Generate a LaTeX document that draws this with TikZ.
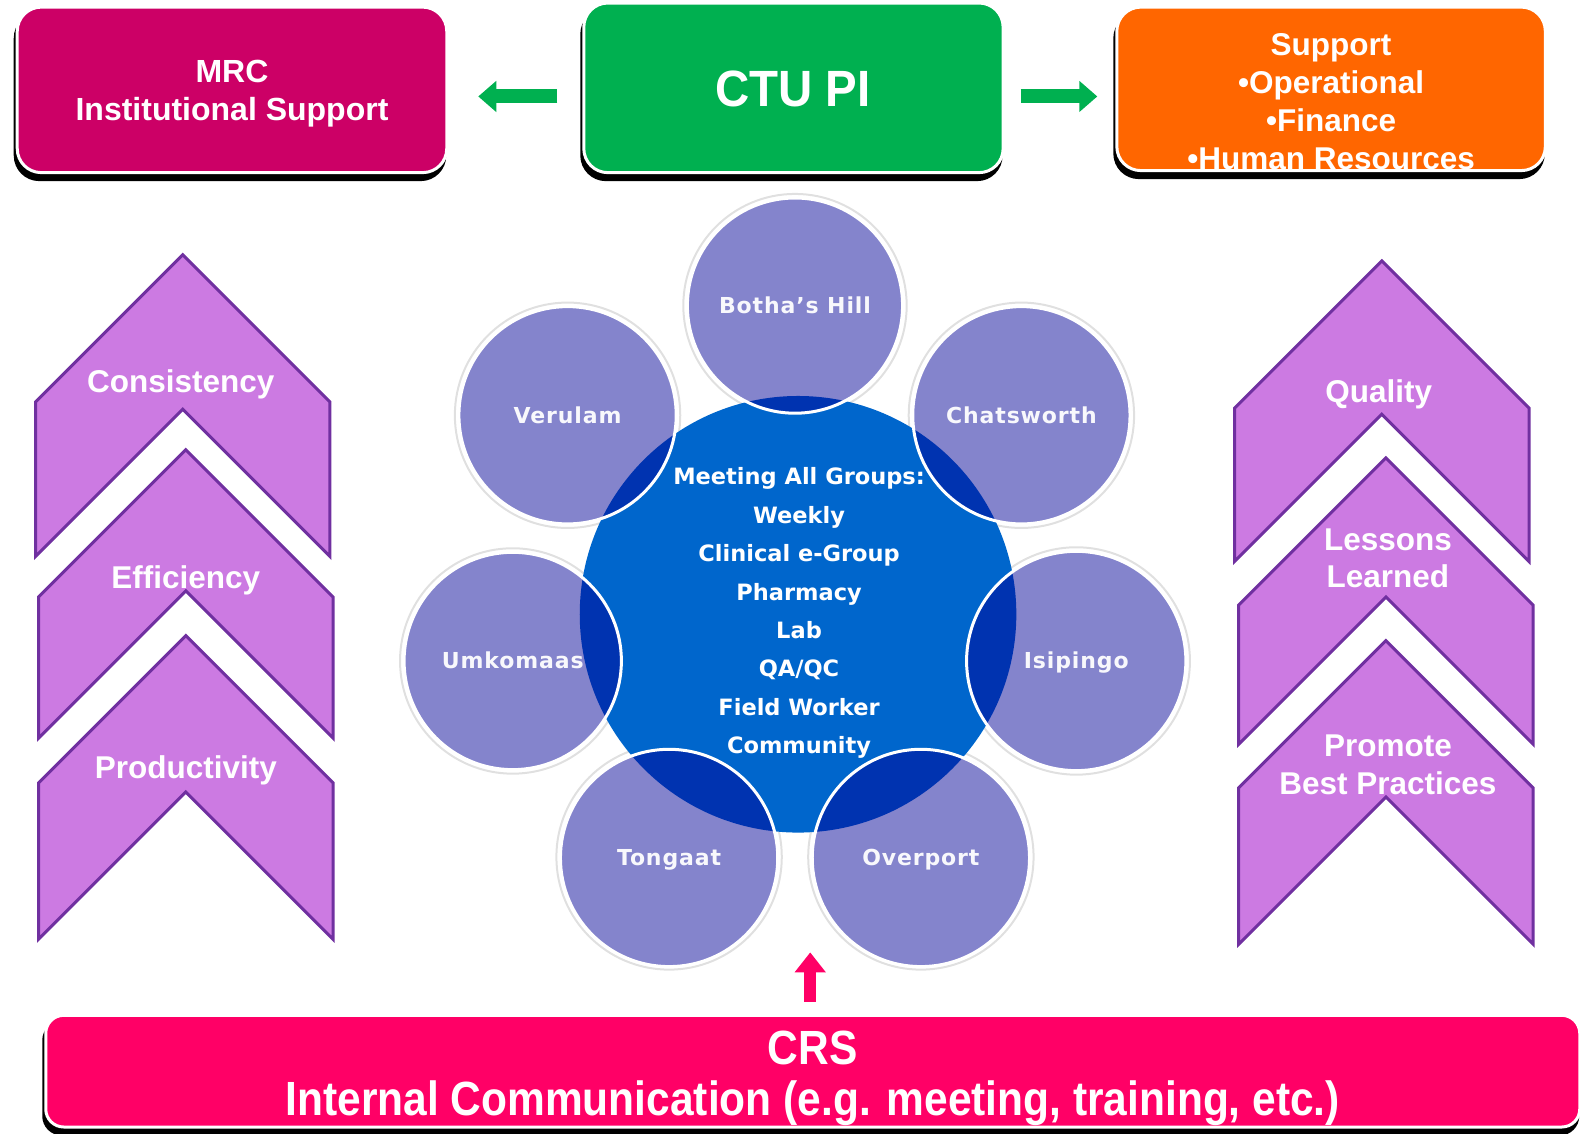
\documentclass[tikz,border=0pt]{standalone}
\usepackage{fontspec}
\setmainfont{Liberation Sans}
\newfontfamily\dvs{DejaVu Sans}
\newfontfamily\dvsl[LetterSpace=4]{DejaVu Sans}
\newfontfamily\narr[FakeStretch=0.885]{Liberation Sans}
\newfontfamily\semi[FakeStretch=0.93]{Liberation Sans}
\usetikzlibrary{arrows.meta}
\definecolor{mrcc}{HTML}{CC0066}
\definecolor{ctuc}{HTML}{00B050}
\definecolor{supc}{HTML}{FF6600}
\definecolor{crsc}{HTML}{FF0066}
\definecolor{chevfill}{HTML}{CC7AE2}
\definecolor{chevline}{HTML}{7030A0}
\definecolor{outerc}{HTML}{8484CC}
\definecolor{centc}{HTML}{0066CC}
\definecolor{lensc}{HTML}{0033B0}
\newcommand{\mychev}[3]{\draw[chev] (#1-145,#2+145) -- (#1,#2) -- (#1+145,#2+145) -- (#1+145,#3) -- (#1,#3-145) -- (#1-145,#3) -- cycle;}
\begin{document}
\begin{tikzpicture}[x=1.0153pt,y=-1.0153pt,
  raised/.style={rectangle, rounded corners=24pt, inner sep=0pt, draw=white, line width=3pt,
    preaction={fill=black, draw=black, line width=3pt, transform canvas={shift={(-2pt,-7pt)}}}},
  boxtxt/.style={text=white, align=center, font=\bfseries\fontsize{32}{38}\selectfont},
  garrow/.style={draw=ctuc, line width=14pt, -{Triangle[length=18pt,width=30pt]}},
  parrow/.style={draw=crsc, line width=12pt, -{Triangle[length=20pt,width=30pt]}},
  chev/.style={fill=chevfill, draw=chevline, line width=3pt},
  chevtxt/.style={text=white, align=center, font=\bfseries\fontsize{31.5}{37.6}\selectfont},
  site/.style={circle, inner sep=0pt, draw=white, line width=3pt, text=white!94!outerc,
    text height=16pt, text depth=0pt, font=\dvsl\bfseries\fontsize{22}{26}\selectfont},
]
\useasboundingbox (0,0) rectangle (1568,1116);

% top boxes
\node[raised, fill=mrcc, minimum width=429.5pt, minimum height=165.5pt] (mrc) at (228.5,88.5) {};
\node[raised, fill=ctuc, minimum width=419.3pt, minimum height=169.6pt] (ctu) at (781.5,86.5) {};
\node[raised, fill=supc, minimum width=428.5pt, minimum height=163.5pt] (sup) at (1311,87.5) {};
\node[boxtxt] (mrct) at (228.5,92.5) {MRC\\Institutional Support};
\node[text=white, font=\semi\bfseries\fontsize{51}{60}\selectfont] (ctut) at (781,88) {CTU PI};
\node[boxtxt, font=\bfseries\fontsize{31.5}{38}\selectfont] (supt) at (1311,100.5) {Support\\•Operational\\•Finance\\•Human Resources};

\coordinate (ay) at (0,95);
\draw[garrow, shorten <=25pt, shorten >=30pt] (ctu.west |- ay) -- (mrc.east |- ay);
\draw[garrow, shorten <=16pt, shorten >=18pt] (ctu.east |- ay) -- (sup.west |- ay);

% chevrons
\mychev{180}{251}{548}
\mychev{183}{443}{727}
\mychev{183}{626}{925}
\mychev{1361}{257}{553}
\mychev{1365}{451}{733}
\mychev{1365}{631}{930}
\node[chevtxt] (c1) at (178,378.5) {Consistency};
\node[chevtxt] (c2) at (183,571.5) {Efficiency};
\node[chevtxt] (c3) at (183,758.5) {Productivity};
\node[chevtxt] (r1) at (1358,388.5) {Quality};
\node[chevtxt] (r2) at (1367,550) {Lessons\\Learned};
\node[chevtxt] (r3) at (1367,753) {Promote\\Best Practices};

% circles
\foreach \x/\y/\r in {783/301/106, 559/409/107, 1006/409/107, 505/651/107, 1060/651/108, 659/844/107, 907/844/107} {
  \draw[black!12, line width=2pt] (\x,\y) circle[radius=\r+4];
}
\node[circle, fill=centc, minimum size=436.6pt, inner sep=0pt] (hub) at (786,605) {};
\foreach \x/\y/\r in {783/301/106, 559/409/107, 1006/409/107, 505/651/107, 1060/651/108, 659/844/107, 907/844/107} {
  \fill[outerc] (\x,\y) circle[radius=\r];
}
\begin{scope}
  \clip (786,605) circle[radius=215];
  \foreach \x/\y/\r in {783/301/106, 559/409/107, 1006/409/107, 505/651/107, 1060/651/108, 659/844/107, 907/844/107} {
    \fill[lensc] (\x,\y) circle[radius=\r];
  }
\end{scope}
\node[site, minimum size=215.2pt] (bh) at (783,301) {Botha’s Hill};
\node[site, minimum size=217.3pt] (ve) at (559,409) {Verulam};
\node[site, minimum size=217.3pt] (ch) at (1006,409) {Chatsworth};
\node[site, minimum size=217.3pt] (um) at (505,651) {Umkomaas};
\node[site, minimum size=219.3pt] (is) at (1060,651) {Isipingo};
\node[site, minimum size=217.3pt] (to) at (659,845) {Tongaat};
\node[site, minimum size=217.3pt] (ov) at (907,845) {Overport};
\node[text=white, align=center, font=\dvs\bfseries\fontsize{22.5}{38.4}\selectfont] (meet) at (787,604)
  {Meeting All Groups:\\Weekly\\Clinical e-Group\\Pharmacy\\Lab\\QA/QC\\Field Worker\\Community};

% bottom bar
\node[raised, rounded corners=18pt, fill=crsc, minimum width=1534pt, minimum height=111.7pt] (crs) at (800.5,1055) {};
\node[text=white, align=center, font=\narr\bfseries\fontsize{48}{51.8}\selectfont] (crst) at (800.5,1062)
  {CRS\\Internal Communication (e.g. meeting, training, etc.)};
\coordinate (ptip) at (798,938);
\draw[parrow, shorten <=12pt] (ptip |- crs.north) -- (ptip);
\end{tikzpicture}
\end{document}
